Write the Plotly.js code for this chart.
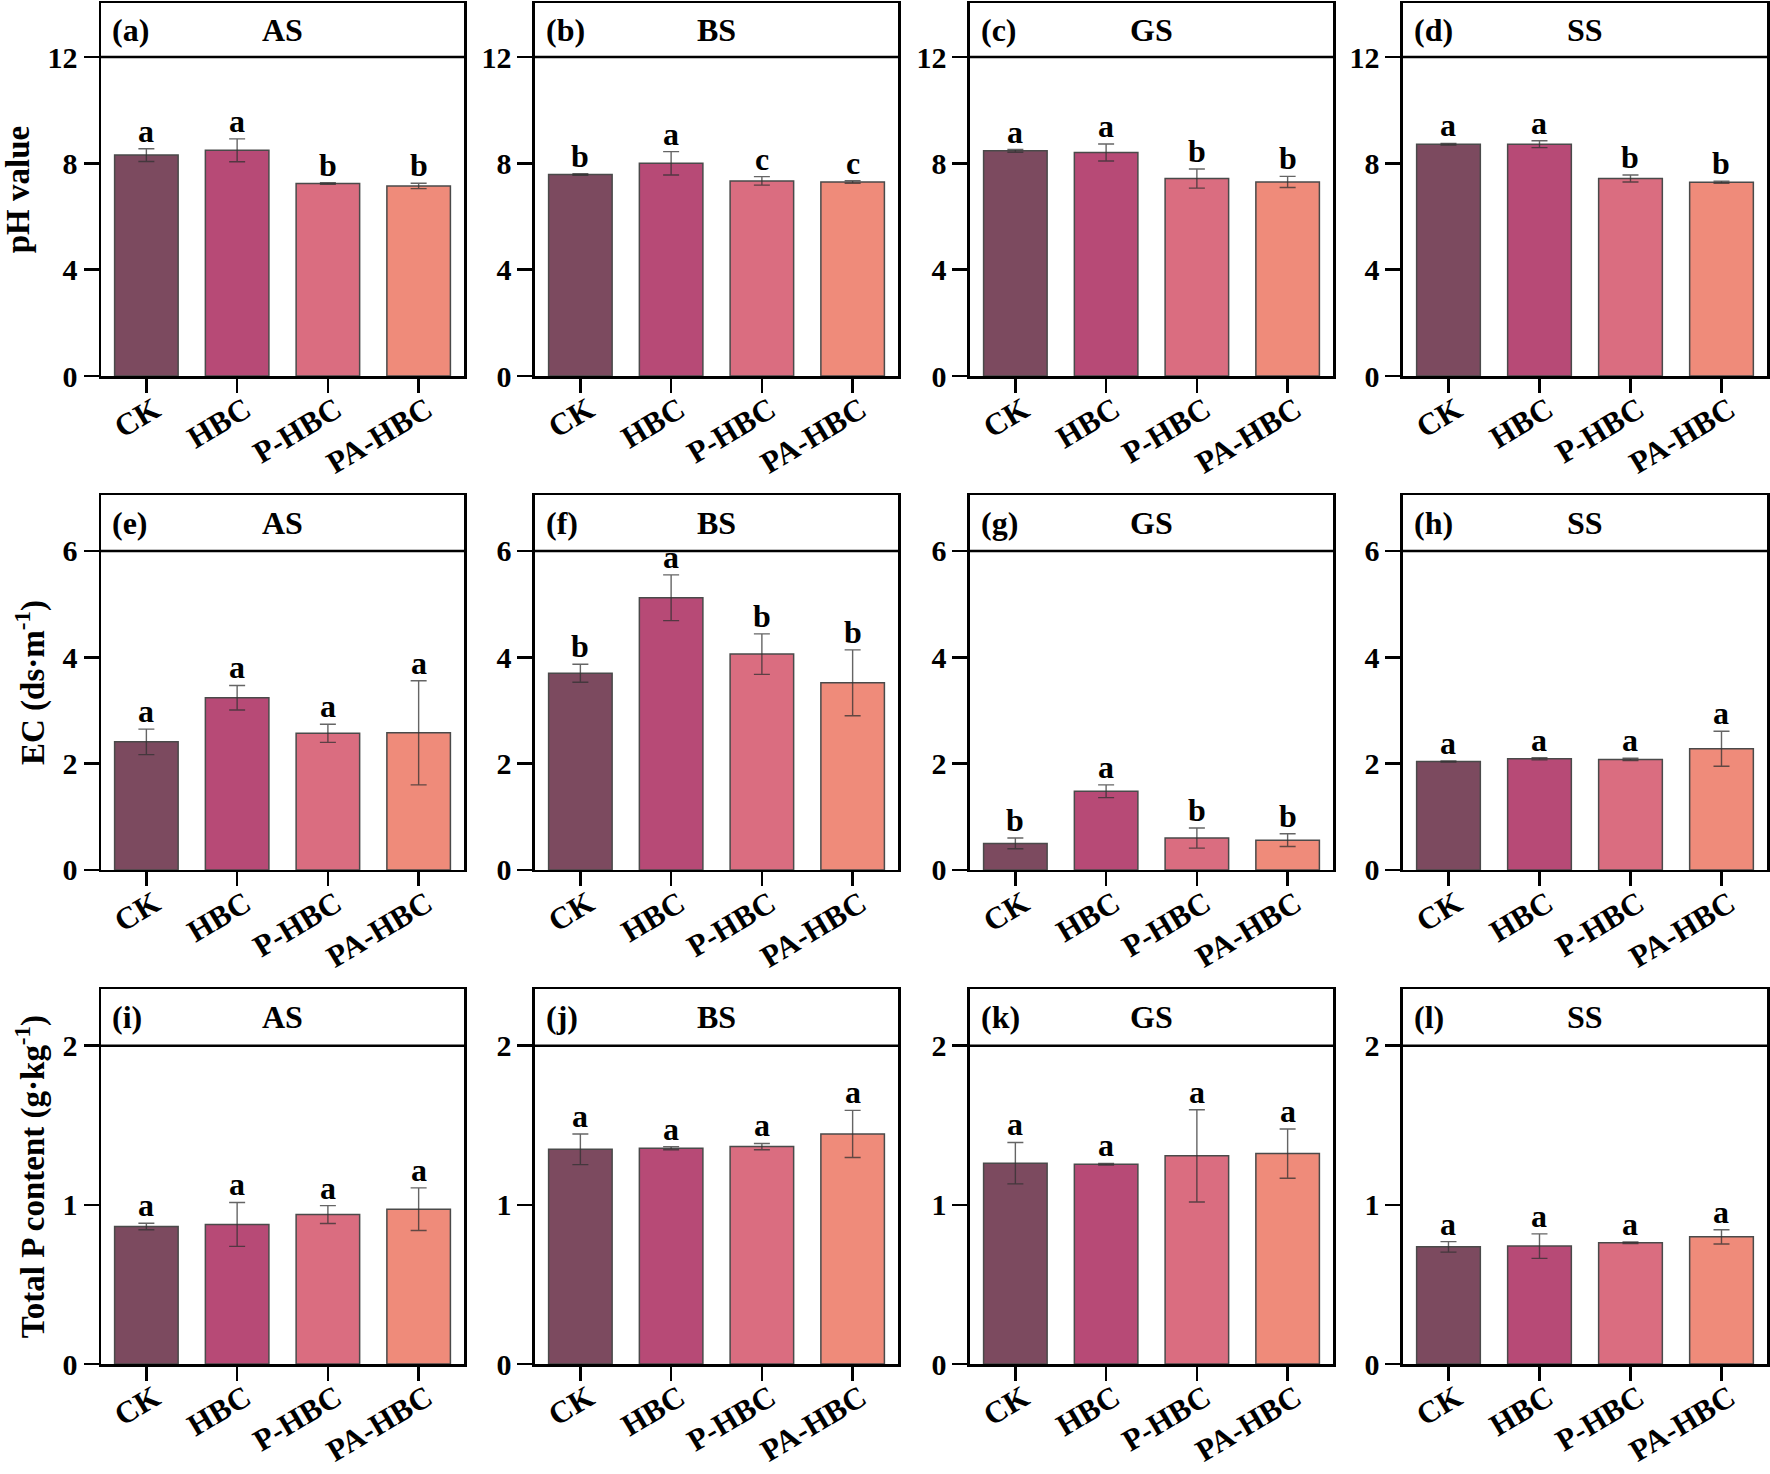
<!DOCTYPE html>
<html>
<head>
<meta charset="utf-8">
<script src="https://cdn.plot.ly/plotly-3.0.1.min.js"></script>
<style>html,body{margin:0;padding:0;background:#fff;}</style>
</head>
<body>
<div id="chart" style="width:1770px;height:1474px;"></div>
<script>
// ---------------- data ----------------
const categories = ["CK", "HBC", "P-HBC", "PA-HBC"];
const soils = ["AS", "BS", "GS", "SS"];
const panelLetters = ["(a)","(b)","(c)","(d)","(e)","(f)","(g)","(h)","(i)","(j)","(k)","(l)"];

// pH value (rows: AS, BS, GS, SS)
const ph_mean = [
  [8.31, 8.49, 7.24, 7.15],
  [7.58, 8.00, 7.34, 7.30],
  [8.47, 8.41, 7.43, 7.30],
  [8.72, 8.72, 7.43, 7.29]
];
const ph_err = [
  [0.24, 0.43, 0.03, 0.10],
  [0.03, 0.44, 0.16, 0.05],
  [0.05, 0.32, 0.36, 0.21],
  [0.03, 0.13, 0.13, 0.04]
];
const ph_sig = [
  ["a","a","b","b"],
  ["b","a","c","c"],
  ["a","a","b","b"],
  ["a","a","b","b"]
];

// EC (ds·m-1)
const ec_mean = [
  [2.41, 3.24, 2.57, 2.58],
  [3.70, 5.12, 4.06, 3.52],
  [0.50, 1.48, 0.60, 0.56],
  [2.04, 2.09, 2.08, 2.28]
];
const ec_err = [
  [0.24, 0.23, 0.17, 0.98],
  [0.17, 0.43, 0.38, 0.62],
  [0.10, 0.12, 0.19, 0.12],
  [0.01, 0.02, 0.02, 0.33]
];
const ec_sig = [
  ["a","a","a","a"],
  ["b","a","b","b"],
  ["b","a","b","b"],
  ["a","a","a","a"]
];

// Total P content (g·kg-1)
const tp_mean = [
  [0.864, 0.877, 0.939, 0.973],
  [1.349, 1.356, 1.366, 1.446],
  [1.262, 1.255, 1.308, 1.322],
  [0.736, 0.741, 0.762, 0.799]
];
const tp_err = [
  [0.020, 0.138, 0.056, 0.134],
  [0.096, 0.010, 0.020, 0.148],
  [0.130, 0.005, 0.290, 0.155],
  [0.033, 0.077, 0.005, 0.045]
];
const tp_sig = [
  ["a","a","a","a"],
  ["a","a","a","a"],
  ["a","a","a","a"],
  ["a","a","a","a"]
];

const rowTitles = ["<b>pH value</b>", "<b>EC (ds·m<sup>-1</sup>)</b>", "<b>Total P content (g·kg<sup>-1</sup>)</b>"];
const rowTicks = [[0, 4, 8, 12], [0, 2, 4, 6], [0, 1, 2]];
const rowHeader = [12, 6, 2];

// ---------------- style ----------------
const barColors = ["#7c4a5f", "#b74a76", "#da6d80", "#ef8b7a"];
const FONT = "Liberation Serif, Times New Roman, serif";
const rows = [
  {mean: ph_mean, err: ph_err, sig: ph_sig},
  {mean: ec_mean, err: ec_err, sig: ec_sig},
  {mean: tp_mean, err: tp_err, sig: tp_sig}
];
const xDomains = [[0, 0.2179], [0.2605, 0.4784], [0.5216, 0.7395], [0.7815, 1]];
const yDomains = [[0.7259, 1], [0.363, 0.6385], [0, 0.2755]];
const rowTopFactor = [373/319, 375/319, 375/318.3];

const traces = [];
const layout = {
  width: 1770, height: 1474,
  margin: {l: 101, r: 3, t: 3, b: 110},
  paper_bgcolor: "#fff", plot_bgcolor: "#fff",
  showlegend: false,
  font: {family: FONT, color: "#000"},
  annotations: [], shapes: []
};

for (let r = 0; r < 3; r++) {
  for (let c = 0; c < 4; c++) {
    const idx = r * 4 + c + 1;
    const xa = idx === 1 ? "x" : "x" + idx;
    const ya = idx === 1 ? "y" : "y" + idx;
    const xk = idx === 1 ? "xaxis" : "xaxis" + idx;
    const yk = idx === 1 ? "yaxis" : "yaxis" + idx;
    const d = rows[r];
    traces.push({
      type: "bar",
      x: categories,
      y: d.mean[c],
      xaxis: xa, yaxis: ya,
      width: 0.7,
      marker: {color: barColors, line: {color: "#4a4a4a", width: 1.5}},
      error_y: {type: "data", array: d.err[c], visible: true,
                color: "rgba(50,50,50,0.75)", thickness: 1.4, width: 8},
      hoverinfo: "x+y"
    });
    const top = rowHeader[r] * rowTopFactor[r];
    layout[xk] = {
      domain: xDomains[c], anchor: ya,
      type: "category", range: [-0.5, 3.5],
      showline: true, linecolor: "#000", linewidth: 2.5, mirror: true,
      ticks: "outside", ticklen: 14, tickwidth: 2.5, tickcolor: "#000",
      tickangle: -31,
      ticklabelstandoff: -13, ticklabelshift: 8,
      tickfont: {family: FONT, size: 31, weight: "bold", color: "#000"},
      showgrid: false, zeroline: false, fixedrange: true
    };
    layout[yk] = {
      domain: yDomains[r], anchor: xa,
      range: [0, top],
      tickvals: rowTicks[r],
      showline: true, linecolor: "#000", linewidth: 2.5, mirror: true,
      ticks: "outside", ticklen: 15, tickwidth: 2.5, tickcolor: "#000",
      tickfont: {family: FONT, size: 30, weight: "bold", color: "#000"},
      showgrid: false, zeroline: false, fixedrange: true
    };
    if (c === 0) {
      layout[yk].title = {text: rowTitles[r], font: {family: FONT, size: 33, color: "#000"}, standoff: 8};
    }
    // strip separator line
    layout.shapes.push({type: "line", xref: xa + " domain", yref: ya,
      x0: 0, x1: 1, y0: rowHeader[r], y1: rowHeader[r],
      line: {color: "#000", width: 2.5}});
    const stripMid = (rowHeader[r] + top) / 2;
    layout.annotations.push({xref: xa + " domain", yref: ya, x: 0.025, y: stripMid,
      xanchor: "left", yanchor: "middle", showarrow: false,
      text: "<b>" + panelLetters[idx - 1] + "</b>",
      font: {family: FONT, size: 32, color: "#000"}});
    layout.annotations.push({xref: xa + " domain", yref: ya, x: 0.5, y: stripMid,
      xanchor: "center", yanchor: "middle", showarrow: false,
      text: "<b>" + soils[c] + "</b>",
      font: {family: FONT, size: 32, color: "#000"}});
    // significance letters
    for (let k = 0; k < 4; k++) {
      layout.annotations.push({xref: xa, yref: ya, x: categories[k],
        y: d.mean[c][k] + d.err[c][k], xanchor: "center", yanchor: "bottom",
        showarrow: false, yshift: -2,
        text: "<b>" + d.sig[c][k] + "</b>",
        font: {family: FONT, size: 32, color: "#000"}});
    }
  }
}

Plotly.newPlot("chart", traces, layout, {displayModeBar: false, staticPlot: true});
</script>
</body>
</html>
